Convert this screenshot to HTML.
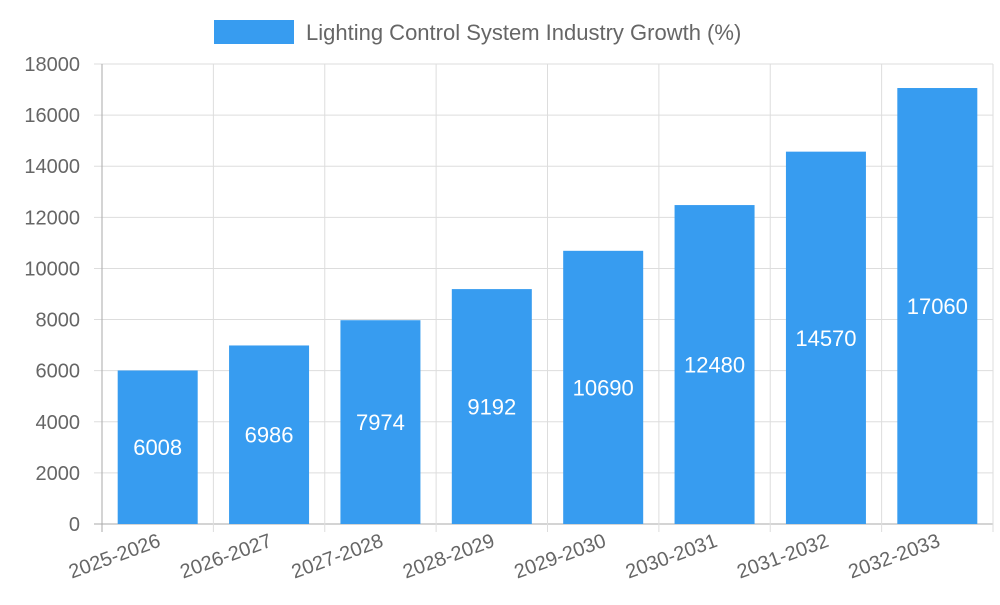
<!DOCTYPE html>
<html><head><meta charset="utf-8"><style>
body{margin:0;background:#fff;font-family:"Liberation Sans",sans-serif}
</style></head><body>
<svg id="c" width="1000" height="600" xmlns="http://www.w3.org/2000/svg" font-family="Liberation Sans, sans-serif"></svg>
<script>
const categories=["2025-2026","2026-2027","2027-2028","2028-2029","2029-2030","2030-2031","2031-2032","2032-2033"];
const values=[6008,6986,7974,9192,10690,12480,14570,17060];
const yTicks=[0,2000,4000,6000,8000,10000,12000,14000,16000,18000];
const svg=document.getElementById('c');const NS="http://www.w3.org/2000/svg";
const L=102,R=993,T=64,B=524,yMax=18000;
const y=v=>B-(v/yMax)*(B-T);
const bw=(R-L)/categories.length;
const x=i=>L+bw*i;
function el(t,a,p){const e=document.createElementNS(NS,t);for(const k in a)e.setAttribute(k,a[k]);(p||svg).appendChild(e);return e;}
// legend
const lg=el('g',{});


el('rect',{x:214,y:20,width:80,height:24,fill:'#379cf0'},lg);
const lt=el('text',{x:306,y:40,'font-size':22,fill:'#666'},lg);lt.textContent='Lighting Control System Industry Growth (%)';
// grid
yTicks.forEach(v=>{
 const g=el('line',{x1:L-8,x2:R,y1:y(v),y2:y(v),stroke:v===0?'#aaa':'#ddd','stroke-width':1});
 
 
 const t=el('text',{x:80,y:y(v)+7,'font-size':20,fill:'#666','text-anchor':'end'});t.textContent=v;
 
 
});
for(let i=0;i<=categories.length;i++){
 const g=el('line',{x1:x(i),x2:x(i),y1:T,y2:B+8,stroke:i===0?'#aaa':'#ddd'});
 
 
}
categories.forEach((c,i)=>{
 const cx=x(i)+bw/2,w=80;
 const r=el('rect',{x:cx-w/2,y:y(values[i]),width:w,height:B-y(values[i]),fill:'#379cf0'});
 
 
 const vt=el('text',{x:cx,y:(y(values[i])+B)/2+8,'font-size':22,fill:'#fff','text-anchor':'middle'});vt.textContent=values[i];
 
 
 const xt=el('text',{x:cx+4,y:B+22,'font-size':20,fill:'#666','text-anchor':'end',transform:`rotate(-20 ${cx+4} ${B+22})`});xt.textContent=c;
 
 
});
</script>
</body></html>
